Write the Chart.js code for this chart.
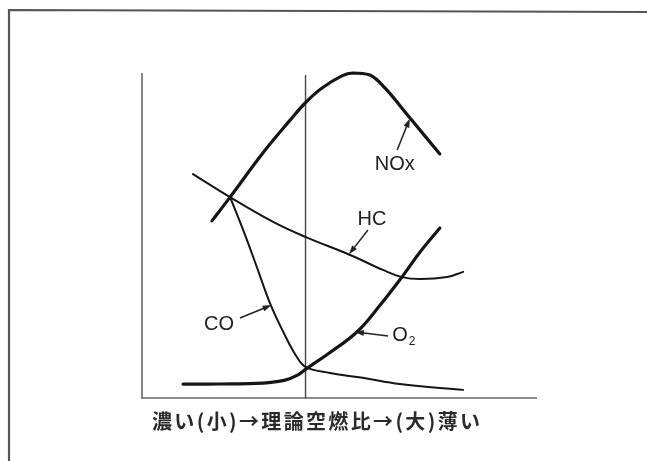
<!DOCTYPE html>
<html>
<head>
<meta charset="utf-8">
<script src="https://cdn.jsdelivr.net/npm/chart.js@4.4.1/dist/chart.umd.min.js"></script>
<style>
html,body{margin:0;padding:0;background:#fff;}
#wrap{width:647px;height:461px;position:relative;}
</style>
</head>
<body>
<div id="wrap"><canvas id="chart" width="647" height="461"></canvas></div>
<script>
// x: air/fuel ratio, arbitrary units (0 = rich, 100 = lean); y: concentration, arbitrary units
var stoich_x = 41.4;

var nox_x = [17.7, 22.3, 30.6, 37.5, 41.5, 45.5, 50.6, 53.4, 57.7, 61.5, 67.8, 75.4];
var nox_y = [54.5, 61.8, 75.4, 85.5, 91.0, 95.3, 99.1, 100.0, 99.4, 95.4, 86.2, 75.1];

var hc_x = [12.9, 22.3, 33.2, 41.5, 52.7, 61.0, 65.8, 70.4, 77.2, 81.3];
var hc_y = [68.9, 61.8, 54.2, 49.5, 44.0, 39.4, 37.2, 36.6, 37.2, 38.8];

var co_x = [22.3, 25.6, 28.9, 32.4, 35.9, 39.2, 41.5, 47.6, 55.9, 65.3, 81.3];
var co_y = [61.8, 51.7, 40.9, 29.2, 20.0, 12.6, 9.5, 7.7, 6.2, 4.3, 2.5];

var o2_x = [10.4, 19.7, 30.6, 36.2, 39.5, 41.5, 47.6, 54.4, 60.3, 65.8, 70.4, 75.4];
var o2_y = [4.3, 4.3, 4.6, 5.5, 7.1, 8.9, 14.0, 20.3, 28.6, 37.2, 44.9, 52.3];

var x_title = "濃い(小)→理論空燃比→(大)薄い";

function pts(xs, ys){
    var out = [];
    for(var i = 0; i < xs.length; i++){
        out.push({x: xs[i], y: ys[i]});
    }
    return out;
}

function line(label, xs, ys, w){
    return {
        label: label,
        data: pts(xs, ys),
        borderColor: "#151515",
        borderWidth: w,
        pointRadius: 0,
        fill: false,
        clip: false,
        tension: 0.4,
        borderCapStyle: "round"
    };
}

// label text + arrow (from -> to), all in data units
var callouts = [
    {text: "NOx", at: [64.0, 71.7], from: [64.6, 76.3], to: [67.8, 86.0]},
    {text: "HC",  at: [58.2, 54.8], from: [57.2, 51.7], to: [52.4, 44.2]},
    {text: "CO",  at: [19.5, 22.5], from: [24.8, 24.6], to: [32.8, 28.6]},
    {text: "O", sub: "2", at: [65.3, 19.1], from: [62.3, 19.1], to: [53.9, 20.3]}
];

function arrow(ctx, x1, y1, x2, y2){
    var ang = Math.atan2(y2 - y1, x2 - x1);
    ctx.beginPath();
    ctx.moveTo(x1, y1);
    ctx.lineTo(x2 - 5*Math.cos(ang), y2 - 5*Math.sin(ang));
    ctx.stroke();
    ctx.beginPath();
    ctx.moveTo(x2, y2);
    ctx.lineTo(x2 - 9*Math.cos(ang) + 3*Math.sin(ang), y2 - 9*Math.sin(ang) - 3*Math.cos(ang));
    ctx.lineTo(x2 - 9*Math.cos(ang) - 3*Math.sin(ang), y2 - 9*Math.sin(ang) + 3*Math.cos(ang));
    ctx.closePath();
    ctx.fill();
}

var decor = {
    id: "decor",
    beforeDatasetsDraw: function(chart){
        var ctx = chart.ctx, a = chart.chartArea;
        var sx = chart.scales.x.getPixelForValue(stoich_x);
        ctx.save();
        // outer frame of the figure
        ctx.strokeStyle = "#555";
        ctx.lineWidth = 2.2;
        ctx.beginPath();
        ctx.moveTo(9, 461); ctx.lineTo(9, 10); ctx.lineTo(647, 12);
        ctx.stroke();
        // axes
        ctx.strokeStyle = "#666";
        ctx.lineWidth = 1.6;
        ctx.beginPath();
        ctx.moveTo(a.left, a.top); ctx.lineTo(a.left, a.bottom); ctx.lineTo(a.right, a.bottom);
        ctx.stroke();
        // stoichiometric line
        ctx.strokeStyle = "#444";
        ctx.lineWidth = 1.4;
        ctx.beginPath();
        ctx.moveTo(sx, a.top + 2); ctx.lineTo(sx, a.bottom);
        ctx.stroke();
        ctx.restore();
    },
    afterDatasetsDraw: function(chart){
        var ctx = chart.ctx, a = chart.chartArea;
        var xs = chart.scales.x, ys = chart.scales.y;
        ctx.save();
        ctx.fillStyle = "#222";
        ctx.strokeStyle = "#222";
        ctx.lineWidth = 1.5;
        ctx.textBaseline = "middle";
        callouts.forEach(function(c){
            var px = xs.getPixelForValue(c.at[0]), py = ys.getPixelForValue(c.at[1]);
            ctx.font = "20px 'Liberation Sans', Arial, sans-serif";
            ctx.textAlign = c.sub ? "left" : "center";
            if(c.sub){
                var w = ctx.measureText(c.text).width;
                ctx.fillText(c.text, px - w/2, py);
                ctx.font = "12px 'Liberation Sans', Arial, sans-serif";
                ctx.fillText(c.sub, px + w/2 + 1, py + 6);
            } else {
                ctx.fillText(c.text, px, py);
            }
            arrow(ctx, xs.getPixelForValue(c.from[0]), ys.getPixelForValue(c.from[1]),
                       xs.getPixelForValue(c.to[0]), ys.getPixelForValue(c.to[1]));
        });
        // x axis title, spaced out like the printed original
        ctx.font = "bold 20px 'Noto Sans CJK JP'";
        ctx.textAlign = "left";
        ctx.fillStyle = "#2a2a2a";
        var chars = Array.from(x_title), total = 0;
        chars.forEach(function(ch){ total += ctx.measureText(ch).width; });
        var left = a.left + 10, right = a.left + 338;
        var gap = (right - left - total) / (chars.length - 1);
        var x = left;
        chars.forEach(function(ch){
            ctx.fillText(ch, x, a.bottom + 23);
            x += ctx.measureText(ch).width + gap;
        });
        ctx.restore();
    }
};

new Chart(document.getElementById("chart"), {
    type: "line",
    data: {
        datasets: [
            line("NOx", nox_x, nox_y, 3.2),
            line("HC", hc_x, hc_y, 2),
            line("CO", co_x, co_y, 2),
            line("O2", o2_x, o2_y, 3.2)
        ]
    },
    options: {
        responsive: false,
        animation: false,
        layout: {padding: {left: 142, top: 73, right: 110, bottom: 63}},
        plugins: {legend: {display: false}, tooltip: {enabled: false}},
        scales: {
            x: {type: "linear", min: 0, max: 100, display: false},
            y: {type: "linear", min: 0, max: 100, display: false}
        }
    },
    plugins: [decor]
});
</script>
</body>
</html>
